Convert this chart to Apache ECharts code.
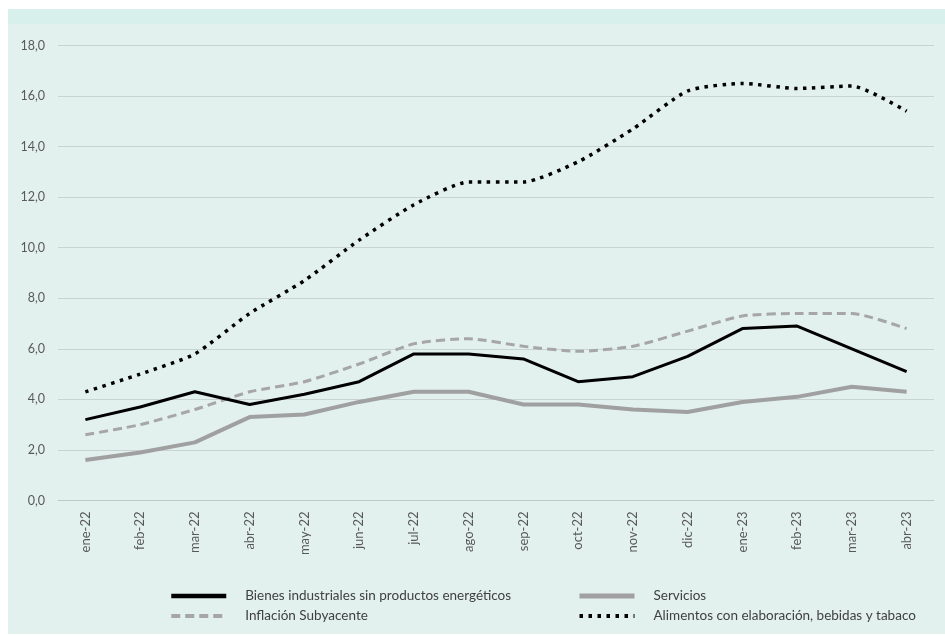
<!DOCTYPE html>
<html>
<head>
<meta charset="utf-8">
<script src="https://cdn.jsdelivr.net/npm/echarts@6/dist/echarts.min.js"></script>
<style>
html,body{margin:0;padding:0;background:#ffffff;width:945px;height:636px;overflow:hidden;}
#c{position:absolute;left:8px;top:9px;width:937px;height:625px;background:#e2f1ee;}
</style>
</head>
<body>
<div id="c"></div>
<script>
const categories = ['ene-22','feb-22','mar-22','abr-22','may-22','jun-22','jul-22','ago-22','sep-22','oct-22','nov-22','dic-22','ene-23','feb-23','mar-23','abr-23'];
const bienes = [3.2,3.7,4.3,3.8,4.2,4.7,5.8,5.8,5.6,4.7,4.9,5.7,6.8,6.9,6.0,5.1];
const servicios = [1.6,1.9,2.3,3.3,3.4,3.9,4.3,4.3,3.8,3.8,3.6,3.5,3.9,4.1,4.5,4.3];
const subyacente = [2.6,3.0,3.6,4.3,4.7,5.4,6.2,6.4,6.1,5.9,6.1,6.7,7.3,7.4,7.4,6.8];
const alimentos = [4.3,5.0,5.8,7.4,8.7,10.3,11.7,12.6,12.6,13.4,14.7,16.2,16.5,16.3,16.4,15.4];
const yTicks = [0,2,4,6,8,10,12,14,16,18];

const names = ['Bienes industriales sin productos energéticos','Servicios','Inflación Subyacente','Alimentos con elaboración, bebidas y tabaco'];
const font = 'Lato, "Open Sans", sans-serif';

const styles = [
  {color: '#000000', width: 3, type: 'solid'},
  {color: '#a0a0a0', width: 4, type: 'solid'},
  {color: '#a6a6a6', width: 3, type: [9, 5]},
  {color: '#000000', width: 3.5, type: [3.5, 5.5]}
];
const legendWidths = [4.5, 5, 4, 4];

const chart = echarts.init(document.getElementById('c'));
const legendCommon = {
  orient: 'vertical', itemWidth: 55, itemHeight: 14, itemGap: 6,
  itemStyle: {opacity: 0},
  textStyle: {color: '#404040', fontSize: 13.5, fontFamily: font, padding: [0,0,0,14]},
  selectedMode: false
};
const legendItem = i => ({name: names[i], lineStyle: {width: legendWidths[i]}});
chart.setOption({
  backgroundColor: 'transparent',
  graphic: [{type:'rect', left:0, top:0, shape:{width:937, height:15}, style:{fill:'#d7f0eb'}, silent:true}],
  grid: {left: 50, right: 11, top: 36.5, bottom: 133.5},
  legend: [
    Object.assign({left: 156, top: 575, data: [legendItem(0), legendItem(2)]}, legendCommon),
    Object.assign({left: 564, top: 575, data: [legendItem(1), legendItem(3)]}, legendCommon)
  ],
  xAxis: {
    type: 'category', data: categories, boundaryGap: true,
    axisLine: {lineStyle: {color: '#c0c8c6', width: 1}},
    axisTick: {show: false},
    axisLabel: {rotate: 90, color: '#595959', fontSize: 13, fontFamily: font, margin: 11, interval: 0}
  },
  yAxis: {
    type: 'value', min: yTicks[0], max: yTicks[yTicks.length-1], interval: 2,
    axisLine: {show: false}, axisTick: {show: false},
    splitLine: {lineStyle: {color: '#c9d3d1', width: 1}},
    axisLabel: {color: '#595959', fontSize: 12.5, fontFamily: font, margin: 13,
      formatter: v => v.toFixed(1).replace('.', ',')}
  },
  series: [
    {name: names[0], type: 'line', data: bienes, symbol: 'none', z: 4,
     lineStyle: styles[0], itemStyle: {color: styles[0].color}},
    {name: names[1], type: 'line', data: servicios, symbol: 'none', z: 2,
     lineStyle: styles[1], itemStyle: {color: styles[1].color}},
    {name: names[2], type: 'line', data: subyacente, symbol: 'none', z: 3, smooth: 0.2,
     lineStyle: styles[2], itemStyle: {color: styles[2].color}},
    {name: names[3], type: 'line', data: alimentos, symbol: 'none', z: 5, smooth: 0.2,
     lineStyle: styles[3], itemStyle: {color: styles[3].color}}
  ]
});
</script>
</body>
</html>
